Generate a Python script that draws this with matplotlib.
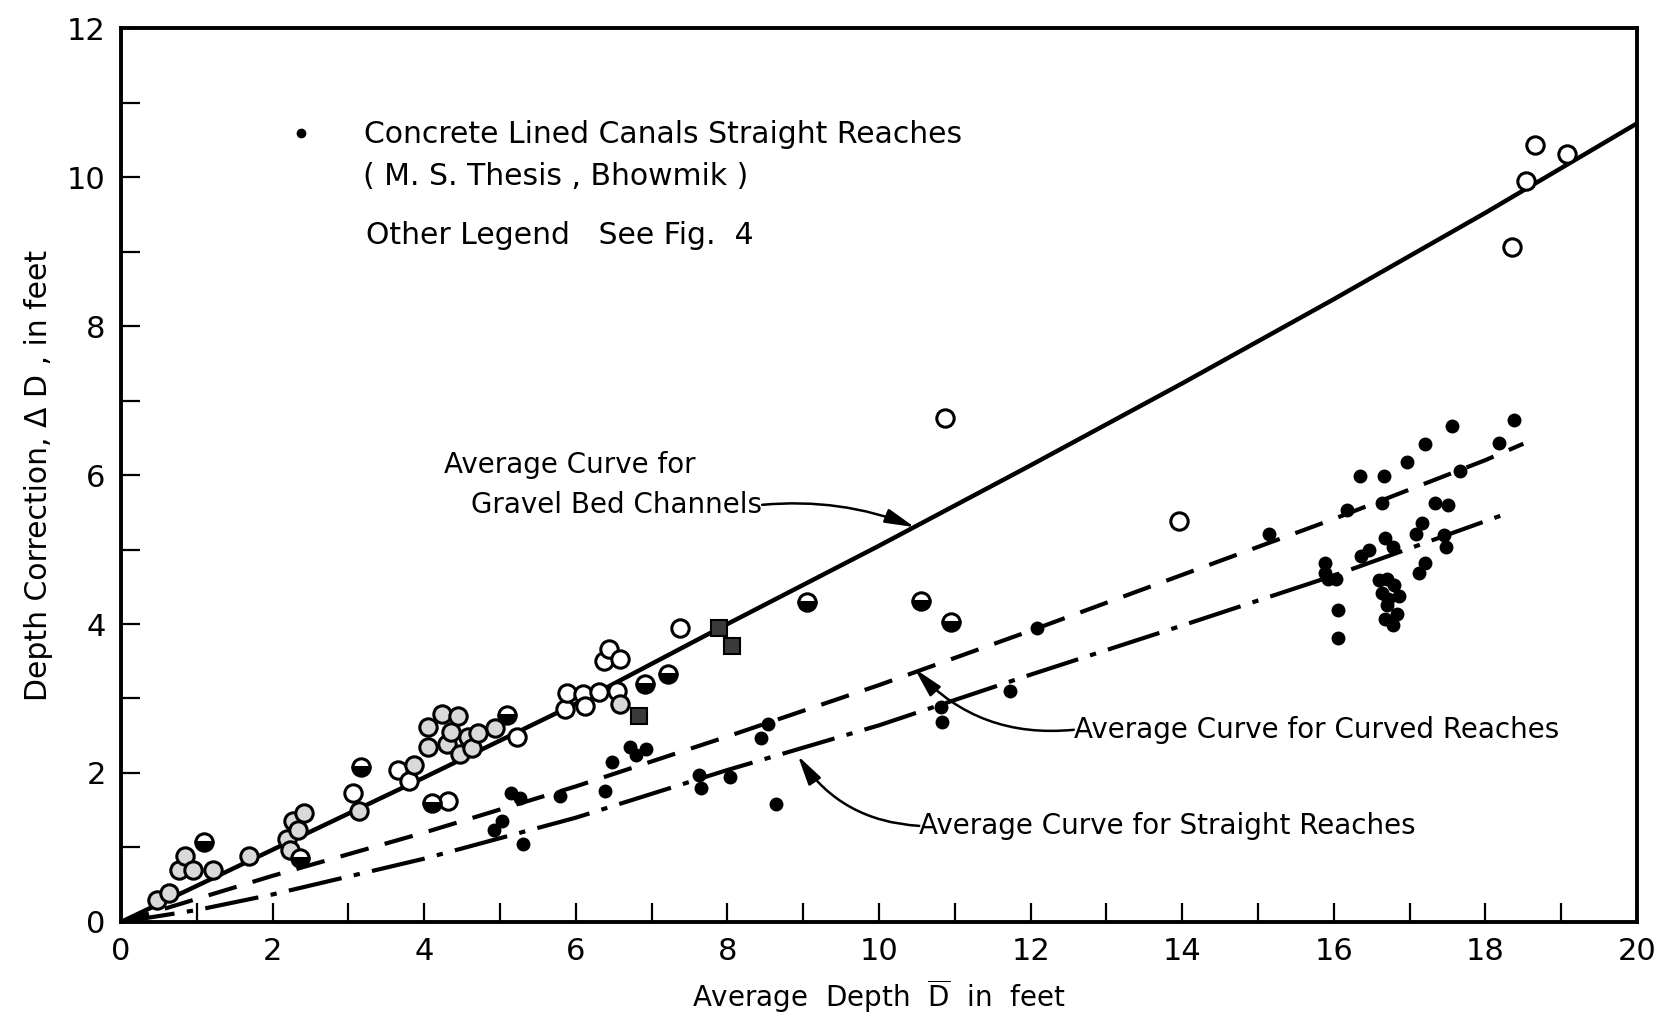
import matplotlib
matplotlib.use("Agg")
import matplotlib.pyplot as plt
from matplotlib.lines import Line2D

# ---------------- data ----------------
# Average curves
gravel_x = [0, 2, 4, 6, 8, 10, 12, 14, 16, 18, 20]
gravel_y = [0, 0.97, 1.94, 2.93, 4.0, 5.05, 6.13, 7.23, 8.36, 9.52, 10.72]

curved_x = [0, 2, 4, 6, 8, 10, 12, 14, 16, 18, 18.5]
curved_y = [0, 0.62, 1.2, 1.82, 2.49, 3.18, 3.91, 4.66, 5.41, 6.2, 6.42]

straight_x = [0, 1, 2, 4, 6, 8, 10, 12, 14, 16, 18.3]
straight_y = [0, 0.16, 0.37, 0.85, 1.40, 2.04, 2.64, 3.32, 3.98, 4.65, 5.49]

# Gravel bed channel points (see Fig. 4) - plain open circles
open_x = [3.06, 3.66, 3.80, 4.31, 5.23, 5.86, 5.89, 6.10, 6.12, 6.31, 6.37,
          6.44, 6.58, 6.55, 7.37, 10.87, 13.96, 18.35, 18.53, 18.65, 19.08]
open_y = [1.73, 2.04, 1.89, 1.63, 2.48, 2.86, 3.07, 3.06, 2.90, 3.09, 3.50,
          3.67, 3.53, 3.10, 3.95, 6.76, 5.38, 9.06, 9.94, 10.43, 10.31]

# shaded (stippled) open circles
shaded_x = [0.47, 0.64, 0.76, 0.85, 0.95, 1.21, 1.69, 2.19, 2.23, 2.27, 2.33,
            2.41, 3.14, 3.86, 4.05, 4.05, 4.24, 4.30, 4.35, 4.44, 4.47, 4.58,
            4.63, 4.71, 4.93, 6.58]
shaded_y = [0.30, 0.39, 0.70, 0.88, 0.70, 0.70, 0.88, 1.12, 0.97, 1.35, 1.23,
            1.46, 1.49, 2.11, 2.35, 2.62, 2.79, 2.39, 2.55, 2.77, 2.26, 2.48,
            2.33, 2.54, 2.60, 2.93]

# partly filled circles
half_x = [1.09, 2.36, 3.16, 4.10, 5.09, 6.91, 7.21, 9.05, 10.55, 10.95]
half_y = [1.08, 0.86, 2.08, 1.60, 2.78, 3.20, 3.33, 4.30, 4.31, 4.03]

# squares
square_x = [6.84, 7.89, 8.06]
square_y = [2.76, 3.95, 3.70]

# Concrete lined canals, straight reaches (Bhowmik) - filled dots
dot_x = [4.92, 5.03, 5.30, 5.14, 5.26, 5.79, 6.38, 6.48, 6.72, 6.79, 6.93,
         7.62, 7.65, 8.04, 8.44, 8.54, 8.64, 10.82, 10.83, 11.73, 12.08, 15.14,
         16.34, 16.66, 16.96, 17.20, 17.56, 18.38, 18.18, 17.67, 16.64, 16.17,
         17.33, 17.50, 17.16, 17.09, 17.45, 17.48, 17.20, 17.12, 16.67, 16.78,
         16.46, 16.36, 15.88, 15.89, 15.92, 16.03, 16.05, 16.06,
         16.59, 16.70, 16.80, 16.63, 16.86, 16.70, 16.83, 16.68, 16.78, 16.72]
dot_y = [1.23, 1.35, 1.05, 1.73, 1.66, 1.69, 1.76, 2.15, 2.35, 2.24, 2.32,
         1.97, 1.80, 1.94, 2.47, 2.66, 1.58, 2.88, 2.68, 3.10, 3.94, 5.21,
         5.99, 5.99, 6.17, 6.42, 6.66, 6.74, 6.43, 6.06, 5.63, 5.53,
         5.63, 5.60, 5.35, 5.21, 5.19, 5.04, 4.82, 4.69, 5.15, 5.04,
         5.00, 4.91, 4.82, 4.69, 4.61, 4.60, 4.19, 3.81,
         4.59, 4.61, 4.53, 4.41, 4.38, 4.26, 4.14, 4.07, 3.99, 4.33]

x_ticks = list(range(0, 21))
x_labels = [str(v) if v % 2 == 0 else "" for v in x_ticks]
y_ticks = list(range(0, 13))
y_labels = [str(v) if v % 2 == 0 else "" for v in y_ticks]

# ---------------- figure ----------------
plt.rcParams['font.family'] = ['DejaVu Sans']
fig = plt.figure(figsize=(16.64, 10.19), dpi=100)
ax = fig.add_axes([0.0727, 0.0952, 0.9111, 0.8773])

ax.plot(gravel_x, gravel_y, color='black', lw=3.2, solid_capstyle='butt', zorder=2)
ax.plot(curved_x, curved_y, color='black', lw=3.0, dashes=(7, 4), zorder=2)
ax.plot(straight_x, straight_y, color='black', lw=3.0, dashes=(13, 3, 1.5, 3), zorder=2)

ax.plot(open_x, open_y, 'o', ms=12.5, mfc='white', mec='black', mew=2.2, ls='none', zorder=3)
ax.plot(shaded_x, shaded_y, 'o', ms=12.5, mfc='#d9d9d9', mec='black', mew=2.2, ls='none', zorder=3)
ax.plot(half_x, half_y, 'o', ms=12.5, fillstyle='bottom', mfc='black', mfcalt='white',
        mec='black', mew=2.2, ls='none', zorder=3)
ax.plot(square_x, square_y, 's', ms=11.5, mfc='#3a3a3a', mec='black', mew=1.5, ls='none', zorder=3)
dots, = ax.plot(dot_x, dot_y, 'o', ms=9, color='black', ls='none', zorder=4)

ax.set_xlim(0, 20)
ax.set_ylim(0, 12)
ax.set_xticks(x_ticks)
ax.set_xticklabels(x_labels)
ax.set_yticks(y_ticks)
ax.set_yticklabels(y_labels)
ax.tick_params(axis='both', direction='in', length=14, width=1.6, labelsize=22, pad=11,
               colors='black')
for s in ax.spines.values():
    s.set_linewidth(2.8)

ax.set_xlabel(r"Average  Depth  $\overline{\mathrm{D}}$  in  feet", fontsize=20, labelpad=8)
ax.set_ylabel("Depth Correction, \u0394 D , in feet", fontsize=21.5, labelpad=10)

# legend text
leg_handle = Line2D([], [], marker='o', ms=6, color='black', ls='none')
leg = ax.legend([leg_handle], ["Concrete Lined Canals Straight Reaches"], loc='upper left',
                bbox_to_anchor=(0.109, 0.897), frameon=False, fontsize=21.5,
                handlelength=1.0, handletextpad=1.6, borderpad=0, borderaxespad=0)
ax.text(3.19, 10.01, "( M. S. Thesis , Bhowmik )", fontsize=21.5, va='center', ha='left')
ax.text(3.23, 9.21, "Other Legend   See Fig.  4", fontsize=21.5, va='center', ha='left')

# curve annotations
arrow = dict(arrowstyle='-|>,head_length=0.9,head_width=0.22', color='black', lw=1.8,
             shrinkA=0, shrinkB=0)
ax.text(4.26, 6.14, "Average Curve for", fontsize=20, va='center', ha='left')
ax.annotate("Gravel Bed Channels", xy=(10.47, 5.30), xytext=(4.62, 5.60), fontsize=20,
            va='center', ha='left',
            arrowprops=dict(arrow, connectionstyle='arc3,rad=-0.12', relpos=(1.0, 0.5),
                            patchA=None))
ax.annotate("Average Curve for Curved Reaches", xy=(10.47, 3.40), xytext=(12.57, 2.58),
            fontsize=20, va='center', ha='left',
            arrowprops=dict(arrow, connectionstyle='arc3,rad=-0.25', relpos=(0.0, 0.5),
                            patchA=None))
ax.annotate("Average Curve for Straight Reaches", xy=(8.93, 2.23), xytext=(10.53, 1.29),
            fontsize=20, va='center', ha='left',
            arrowprops=dict(arrow, connectionstyle='arc3,rad=-0.25', relpos=(0.0, 0.5),
                            patchA=None))

fig.savefig("out.png", dpi=100, facecolor='white')
